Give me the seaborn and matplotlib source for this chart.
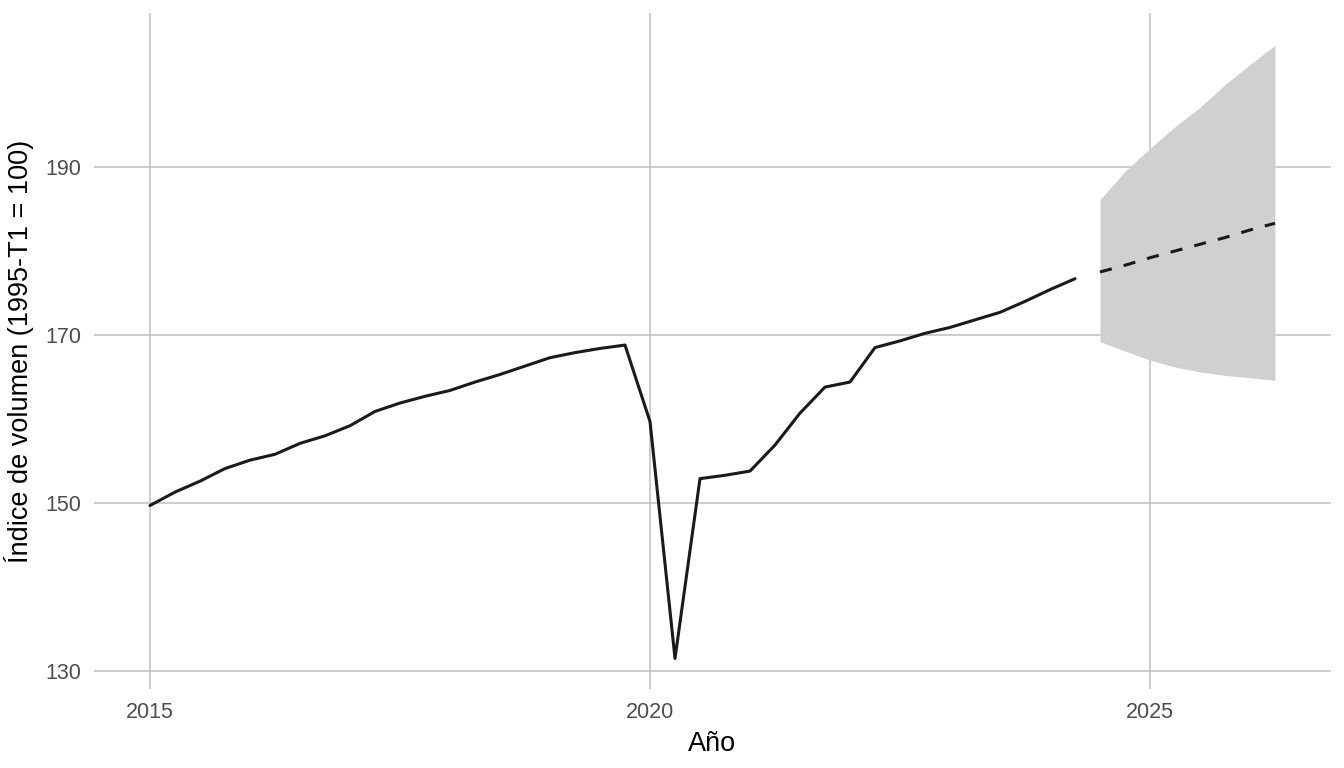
import numpy as np
import pandas as pd
import matplotlib
matplotlib.use("Agg")
import matplotlib.pyplot as plt
import seaborn as sns

# quarterly volume index, 2015-T1 .. 2024-T2
hist_values = [149.7, 151.3, 152.6, 154.1, 155.1, 155.8, 157.1, 158.0, 159.2, 160.9,
               161.9, 162.7, 163.4, 164.4, 165.3, 166.3, 167.3, 167.9, 168.4, 168.8,
               159.7, 131.5, 152.9, 153.3, 153.8, 156.9, 160.7, 163.8, 164.4, 168.5,
               169.3, 170.2, 170.9, 171.8, 172.7, 174.0, 175.4, 176.7]

# forecast 2024-T3 .. 2026-T2 with interval
fc_values = [177.5, 178.3, 179.2, 180.0, 180.8, 181.6, 182.5, 183.3]
fc_upper = [186.1, 189.5, 192.2, 194.8, 197.1, 199.8, 202.2, 204.5]
fc_lower = [169.2, 168.1, 167.0, 166.2, 165.6, 165.2, 164.9, 164.6]

hist = pd.DataFrame({"year": 2015 + 0.25 * np.arange(len(hist_values)), "value": hist_values})
fc = pd.DataFrame({"year": 2024.5 + 0.25 * np.arange(len(fc_values)),
                   "value": fc_values, "lo": fc_lower, "hi": fc_upper})

sns.set_style("white")
plt.rcParams["font.family"] = ["Liberation Sans", "DejaVu Sans"]

fig, ax = plt.subplots(figsize=(13.44, 7.68), dpi=100)
fig.subplots_adjust(left=94 / 1344, right=1331 / 1344, top=1 - 13 / 768, bottom=1 - 689 / 768)

ax.fill_between(fc["year"], fc["lo"], fc["hi"], color="#d0d0d0", linewidth=0, zorder=2)
sns.lineplot(data=hist, x="year", y="value", color="#1a1a1a", linewidth=2.2, ax=ax, zorder=3)
sns.lineplot(data=fc, x="year", y="value", color="#1a1a1a", linewidth=2.2, ax=ax, zorder=3,
             linestyle=(0, (4, 4)))

ax.set_xlim(2014.44, 2026.81)
ax.set_ylim(127.86, 208.33)
ax.set_xticks([2015, 2020, 2025])
ax.set_yticks([130, 150, 170, 190])
ax.grid(True, color="#bebebe", linewidth=1.1, zorder=0)
ax.set_axisbelow(True)
for s in ax.spines.values():
    s.set_visible(False)
ax.tick_params(length=0, pad=9, labelsize=15.5, labelcolor="#4d4d4d")
ax.set_xlabel("Año", fontsize=19.5, color="black", labelpad=6)
ax.set_ylabel("Índice de volumen (1995-T1 = 100)", fontsize=19.5, color="black", labelpad=8)

fig.savefig("out.png", dpi=100)
